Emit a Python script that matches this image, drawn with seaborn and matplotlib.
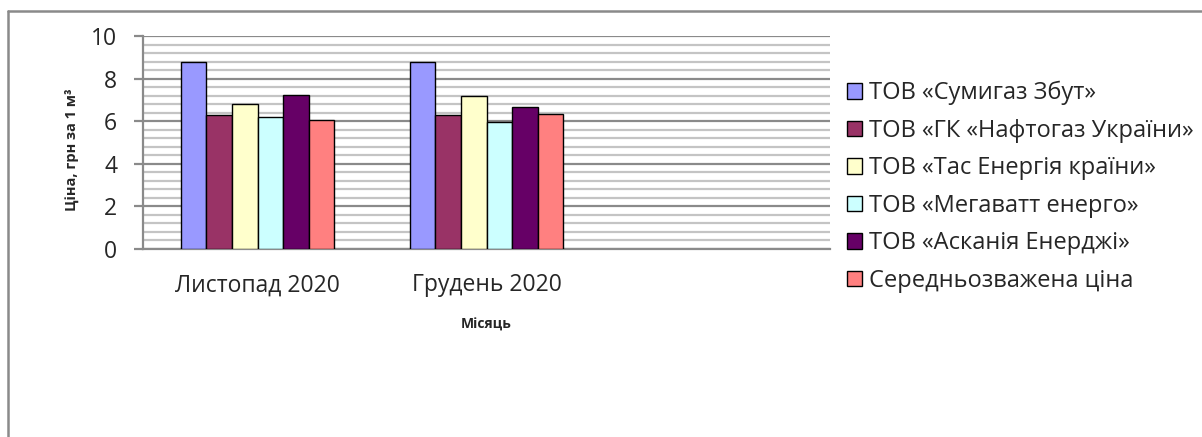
import matplotlib
matplotlib.use("Agg")
import matplotlib.pyplot as plt
import seaborn as sns
import pandas as pd
import numpy as np
from matplotlib.lines import Line2D
from matplotlib.ticker import MultipleLocator

months = ["Листопад 2020", "Грудень 2020", " "]
series = [
    "ТОВ «Сумигаз Збут»",
    "ТОВ «ГК «Нафтогаз України»",
    "ТОВ «Тас Енергія країни»",
    "ТОВ «Мегаватт енерго»",
    "ТОВ «Асканія Енерджі»",
    "Середньозважена ціна",
]
nov_values = [8.80, 6.30, 6.82, 6.22, 7.23, 6.04]
dec_values = [8.80, 6.30, 7.18, 5.96, 6.68, 6.33]
colors = ["#9999FF", "#993366", "#FFFFCC", "#CCFFFF", "#660066", "#FF8080"]

rows = []
for s, a, b in zip(series, nov_values, dec_values):
    rows.append({"Місяць": months[0], "Серія": s, "Ціна": a})
    rows.append({"Місяць": months[1], "Серія": s, "Ціна": b})
df = pd.DataFrame(rows)

sns.set_style("white")
plt.rcParams["font.family"] = ["Open Sans", "DejaVu Sans"]

fig = plt.figure(figsize=(12.02, 4.37), dpi=100)
ax = fig.add_axes([143 / 1202, 1 - 249 / 437, (830 - 143) / 1202, (249 - 36) / 437])

sns.barplot(data=df, x="Місяць", y="Ціна", hue="Серія", order=months,
            hue_order=series, palette=colors, saturation=1, width=0.67, gap=0,
            edgecolor="black", linewidth=1.0, errorbar=None, ax=ax, zorder=3)

ax.set_xlim(-0.5, 2.5)
ax.set_ylim(0, 10)
ax.yaxis.set_major_locator(MultipleLocator(2))
ax.yaxis.set_minor_locator(MultipleLocator(0.4))
ax.grid(which="major", axis="y", color="#8a8a8a", linewidth=1.6, zorder=0)
ax.grid(which="minor", axis="y", color="#c4c4c4", linewidth=1.6, zorder=0)
ax.set_axisbelow(True)
for sp in ["top", "right"]:
    ax.spines[sp].set_visible(False)
for sp in ["left", "bottom"]:
    ax.spines[sp].set_color("#8a8a8a")
    ax.spines[sp].set_linewidth(1.6)
ax.tick_params(axis="y", which="major", left=True, length=6.5, width=1.6,
               color="#8a8a8a", pad=12, labelsize=16.5)
ax.tick_params(axis="y", which="minor", left=False)
ax.tick_params(axis="x", bottom=False, labelsize=16.5, pad=14)

ax.set_ylabel("Ціна, грн за 1 м³", fontsize=10.5, fontweight="bold")
ax.yaxis.label.set_va("center")
ax.yaxis.set_label_coords((72 - 143) / 687, (249 - 150) / 213)
ax.set_xlabel("Місяць", fontsize=10, fontweight="bold")
ax.xaxis.label.set_va("center")
ax.xaxis.set_label_coords(0.5, (249 - 325) / 213)

handles, labels = ax.get_legend_handles_labels()
ax.legend(handles, labels, loc="upper left", bbox_to_anchor=(847 / 1202, 1 - 81 / 437),
          bbox_transform=fig.transFigure, frameon=False, fontsize=17,
          handlelength=0.62, handleheight=0.62, handletextpad=0.32,
          labelspacing=0.57, borderaxespad=0, borderpad=0)

# outer chart frame (left and top edges visible)
fig.add_artist(Line2D([8 / 1202, 8 / 1202], [0, 1 - 11 / 437], transform=fig.transFigure,
                      color="#8a8a8a", linewidth=1.8))
fig.add_artist(Line2D([8 / 1202, 1], [1 - 11 / 437, 1 - 11 / 437], transform=fig.transFigure,
                      color="#8a8a8a", linewidth=1.8))

fig.savefig("out.png", dpi=100, facecolor="white")
